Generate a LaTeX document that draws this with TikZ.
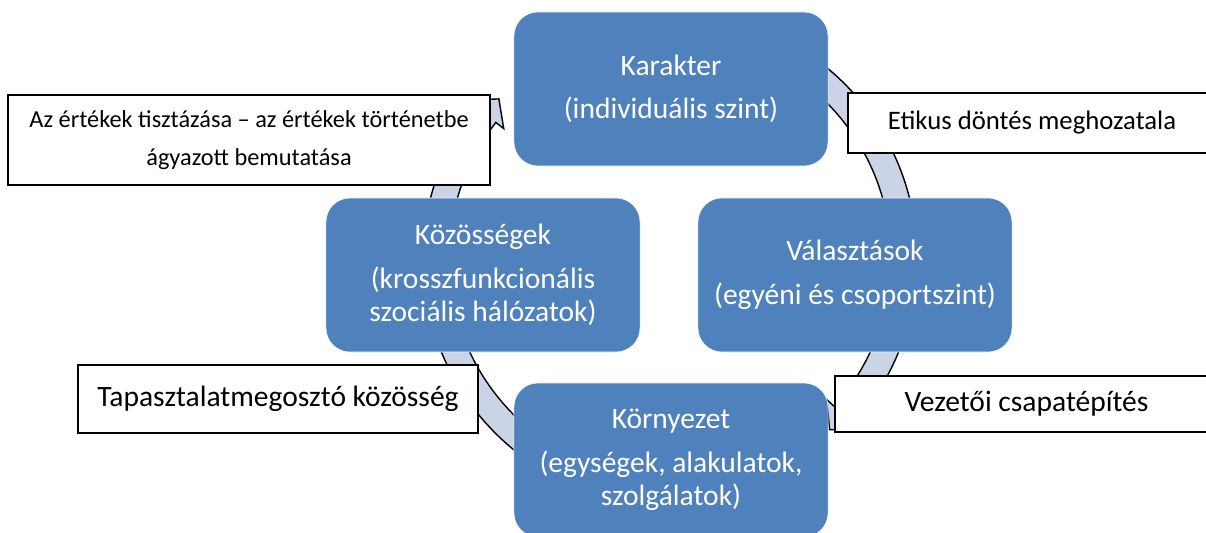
\documentclass[tikz,border=0pt]{standalone}
\usepackage{fontspec}
\setmainfont{Carlito}
\usetikzlibrary{calc}

\definecolor{boxblue}{HTML}{4F81BD}
\definecolor{bandgrey}{HTML}{CBD4E6}

% one curved arrow of the cycle, from angle #1 (clockwise) to the tip at #2
\newcommand{\cyclearrow}[2]{%
  \pgfmathsetmacro{\headbase}{#2+5}
  \path[arrowband] ($(ctr)+(#1:247)$) arc[start angle=#1, end angle=\headbase, radius=247]
    -- ($(ctr)+(\headbase:257)$) -- ($(ctr)+(#2:234)$) -- ($(ctr)+(\headbase:211)$)
    -- ($(ctr)+(\headbase:221)$) arc[start angle=\headbase, end angle=#1, radius=221] -- cycle;}

\begin{document}
\begin{tikzpicture}[x=0.025cm,y=0.025cm,
  stage/.style={draw=white,fill=boxblue,rounded corners=0.6cm,text=white,align=center,
    minimum width=7.85cm,minimum height=3.85cm,font=\fontsize{21}{24}\selectfont},
  note/.style={draw=black,fill=white,align=center,line width=1pt,inner sep=0pt},
  arrowband/.style={draw=black,fill=bandgrey,line width=1pt}]

\useasboundingbox (0,0) rectangle (1206,533);
\coordinate (ctr) at (670,274.5);

%arrows
\cyclearrow{80}{3}
\cyclearrow{-2}{-47}
\cyclearrow{250}{184}
\cyclearrow{172}{137}

%stages
\node[stage] (kar) at (671,444) {Karakter\\[7pt](individuális szint)};
\node[stage] (koz) at (483,258) {Közösségek\\[7pt](krosszfunkcionális\\szociális hálózatok)};
\node[stage] (val) at (855,258) {Választások\\[7pt](egyéni és csoportszint)};
\node[stage] (kor) at (671,73) {Környezet\\[7pt](egységek, alakulatok,\\szolgálatok)};

%notes
\node[note,minimum width=12.05cm,minimum height=2.25cm,font=\fontsize{17.3}{27.5}\selectfont] (ert) at (249,393)
  {Az értékek tisztázása – az értékek történetbe\\ágyazott bemutatása};
\node[note,minimum width=9.2cm,minimum height=1.5cm,font=\fontsize{19}{22}\selectfont] (eti) at (1032,410)
  {Etikus döntés meghozatala};
\node[note,minimum width=10cm,minimum height=1.7cm,font=\fontsize{21}{24}\selectfont] (tap) at (278,134)
  {Tapasztalatmegosztó közösség};
\node[note,minimum width=9.575cm,minimum height=1.4cm,font=\fontsize{21}{24}\selectfont] (vez) at (1026.5,129)
  {Vezetői csapatépítés};

\end{tikzpicture}
\end{document}
